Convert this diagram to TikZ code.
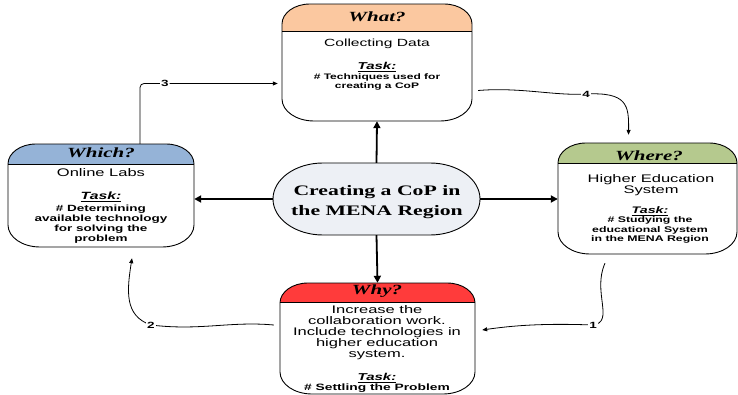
\documentclass[tikz,border=0pt]{standalone}
\usepackage{fontspec}
\setmainfont{Liberation Serif}
\setsansfont{Liberation Sans}
\usetikzlibrary{arrows.meta,calc,fit}
\definecolor{whatc}{HTML}{FBC8A0}
\definecolor{whichc}{HTML}{95B3D7}
\definecolor{wherec}{HTML}{B5C98E}
\definecolor{whyc}{HTML}{FF3B3B}
\definecolor{copc}{HTML}{EDF0F5}
\newcommand\stk[1]{\vbox{\lineskiplimit=-20pt\halign{\hfil##\hfil\cr#1\crcr}}}
\newcommand\hd[1]{\scalebox{1.5}[1]{\fontsize{14}{16}\selectfont\bfseries\itshape #1}}
\newcommand\bd[2][11]{\scalebox{1.5}[1]{\fontsize{#1}{11}\selectfont\sffamily\stk{#2}}}
\newcommand\tk[1][10]{\scalebox{1.5}[1]{\fontsize{#1}{12}\selectfont\sffamily\bfseries\itshape\underline{Task:}}}
\newcommand\tl[2][8]{\scalebox{1.5}[1]{\fontsize{#1}{9.8}\selectfont\sffamily\bfseries\stk{#2}}}
\newcommand\lb[1]{\scalebox{1.5}[1]{\fontsize{9}{10}\selectfont\sffamily\bfseries #1}}
\newcommand\qbox[6]{%
  \begin{scope}
    \clip (#1,#2+20) arc[start angle=180,end angle=90,x radius=28pt,y radius=20pt]
      -- (#3-28,#2) arc[start angle=90,end angle=0,x radius=28pt,y radius=20pt]
      -- (#3,#4-22) arc[start angle=0,end angle=-90,x radius=32pt,y radius=22pt]
      -- (#1+32,#4) arc[start angle=270,end angle=180,x radius=32pt,y radius=22pt] -- cycle;
    \fill[white] (#1,#2) rectangle (#3,#4);
    \fill[#6] (#1,#2) rectangle (#3,#5);
    \draw[boxline] (#1,#5) -- (#3,#5);
  \end{scope}
  \draw[boxline] (#1,#2+20) arc[start angle=180,end angle=90,x radius=28pt,y radius=20pt]
      -- (#3-28,#2) arc[start angle=90,end angle=0,x radius=28pt,y radius=20pt]
      -- (#3,#4-22) arc[start angle=0,end angle=-90,x radius=32pt,y radius=22pt]
      -- (#1+32,#4) arc[start angle=270,end angle=180,x radius=32pt,y radius=22pt] -- cycle;
}
\tikzset{
  boxline/.style={line width=0.9pt, draw=black},
  thickarr/.style={line width=1.8pt, -{Triangle[length=7pt,width=7pt]}},
  thinarr/.style={line width=0.8pt, -{Triangle[length=5pt,width=4pt]}},
  lab/.style={fill=white, inner sep=1pt},
  txt/.style={inner sep=0pt, align=center},
  frame/.style={inner sep=0pt, draw=none}
}
\begin{document}
\begin{tikzpicture}[x=1pt,y=-1pt]
\useasboundingbox (0,0) rectangle (738,395);
% boxes
\qbox{282}{4}{472}{121}{31}{whatc}
\qbox{8}{144}{194}{247}{164}{whichc}
\qbox{558}{143}{737}{254}{163}{wherec}
\qbox{280}{283}{475}{394}{302}{whyc}
\node[frame, fit={(282,4)(472,121)}] (what) {};
\node[frame, fit={(8,144)(194,247)}] (which) {};
\node[frame, fit={(558,143)(737,254)}] (where) {};
\node[frame, fit={(280,283)(475,394)}] (why) {};
% centre
\fill[copc] (323,163) -- (430,163) arc[start angle=90,end angle=-90,x radius=50pt,y radius=36pt]
  -- (323,235) arc[start angle=270,end angle=90,x radius=50pt,y radius=36pt] -- cycle;
\draw[boxline] (323,163) -- (430,163) arc[start angle=90,end angle=-90,x radius=50pt,y radius=36pt]
  -- (323,235) arc[start angle=270,end angle=90,x radius=50pt,y radius=36pt] -- cycle;
\node[frame, fit={(273,163)(480,235)}] (cop) {};
\node[txt] (coptxt) at (377,202) {\scalebox{1.5}[1]{\fontsize{14.5}{20.5}\selectfont\bfseries\stk{Creating a CoP in\cr the MENA Region}}};
% texts: What
\node[txt] (whath) at (377,17) {\hd{What?}};
\node[txt] (whatb) at (377,44) {\bd[10.4]{Collecting Data}};
\node[txt] (whatk) at (377,67) {\tk};
\node[txt] (whatt) at (377,82) {\tl{\# Techniques used for\cr creating a CoP}};
% Which
\node[txt] (whichh) at (101,153) {\hd{Which?}};
\node[txt] (whichb) at (101,173) {\bd{Online Labs}};
\node[txt] (whichk) at (101,197) {\tk[10.5]};
\node[txt] (whicht) at (101,224) {\tl[9]{\# Determining\cr available technology\cr for solving the\cr problem}};
% Where
\node[txt] (whereh) at (649,156) {\hd{Where?}};
\node[txt] (whereb) at (651,185) {\bd[11]{Higher Education\cr System}};
\node[txt] (wherek) at (650,211) {\tk[9.5]};
\node[txt] (wheret) at (650,230) {\tl[8.2]{\# Studying the\cr educational System\cr in the MENA Region}};
% Why
\node[txt] (whyh) at (377,291) {\hd{Why?}};
\node[txt] (whyb) at (377,333) {\bd{Increase the\cr collaboration work.\cr Include technologies in\cr higher education\cr system.}};
\node[txt] (whyk) at (377,378) {\tk};
\node[txt] (whyt) at (377,388) {\tl[9.2]{\# Settling the Problem}};
% thick connectors
\draw[thickarr] (cop.north) -- (what.south);
\draw[thickarr] (cop.west) -- (cop.west -| which.east);
\draw[thickarr] (cop.east) -- (cop.east -| where.west);
\draw[thickarr] (cop.south) -- (why.north);
% numbered connectors
\draw[thinarr, rounded corners=4pt] ([shift={(39,0)}]which.north) |- node[lab, pos=0.59] (n3) {\lb{3}} ([shift={(-4,21)}]what.west);
\draw[thinarr] ([shift={(6,28)}]what.east) .. controls (520,87) and (555,96) .. (586,94) node[lab] (n4) {\lb{4}}
  .. controls (627,92) and (629,105) .. ([shift={(-19,-8)}]where.north);
\draw[thinarr] ([shift={(-42.5,9)}]where.south) .. controls (592,292) and (615,322) .. (593,325) node[lab] (n1) {\lb{1}}
  .. controls (540,323) and (510,326) .. ([shift={(7,-8.5)}]why.east);
\draw[thinarr] ([shift={(-6,-13.5)}]why.west) .. controls (230,321) and (200,331) .. (151,325) node[lab] (n2) {\lb{2}}
  .. controls (124,316) and (127,290) .. ([shift={(31,11)}]which.south);
\end{tikzpicture}
\end{document}
